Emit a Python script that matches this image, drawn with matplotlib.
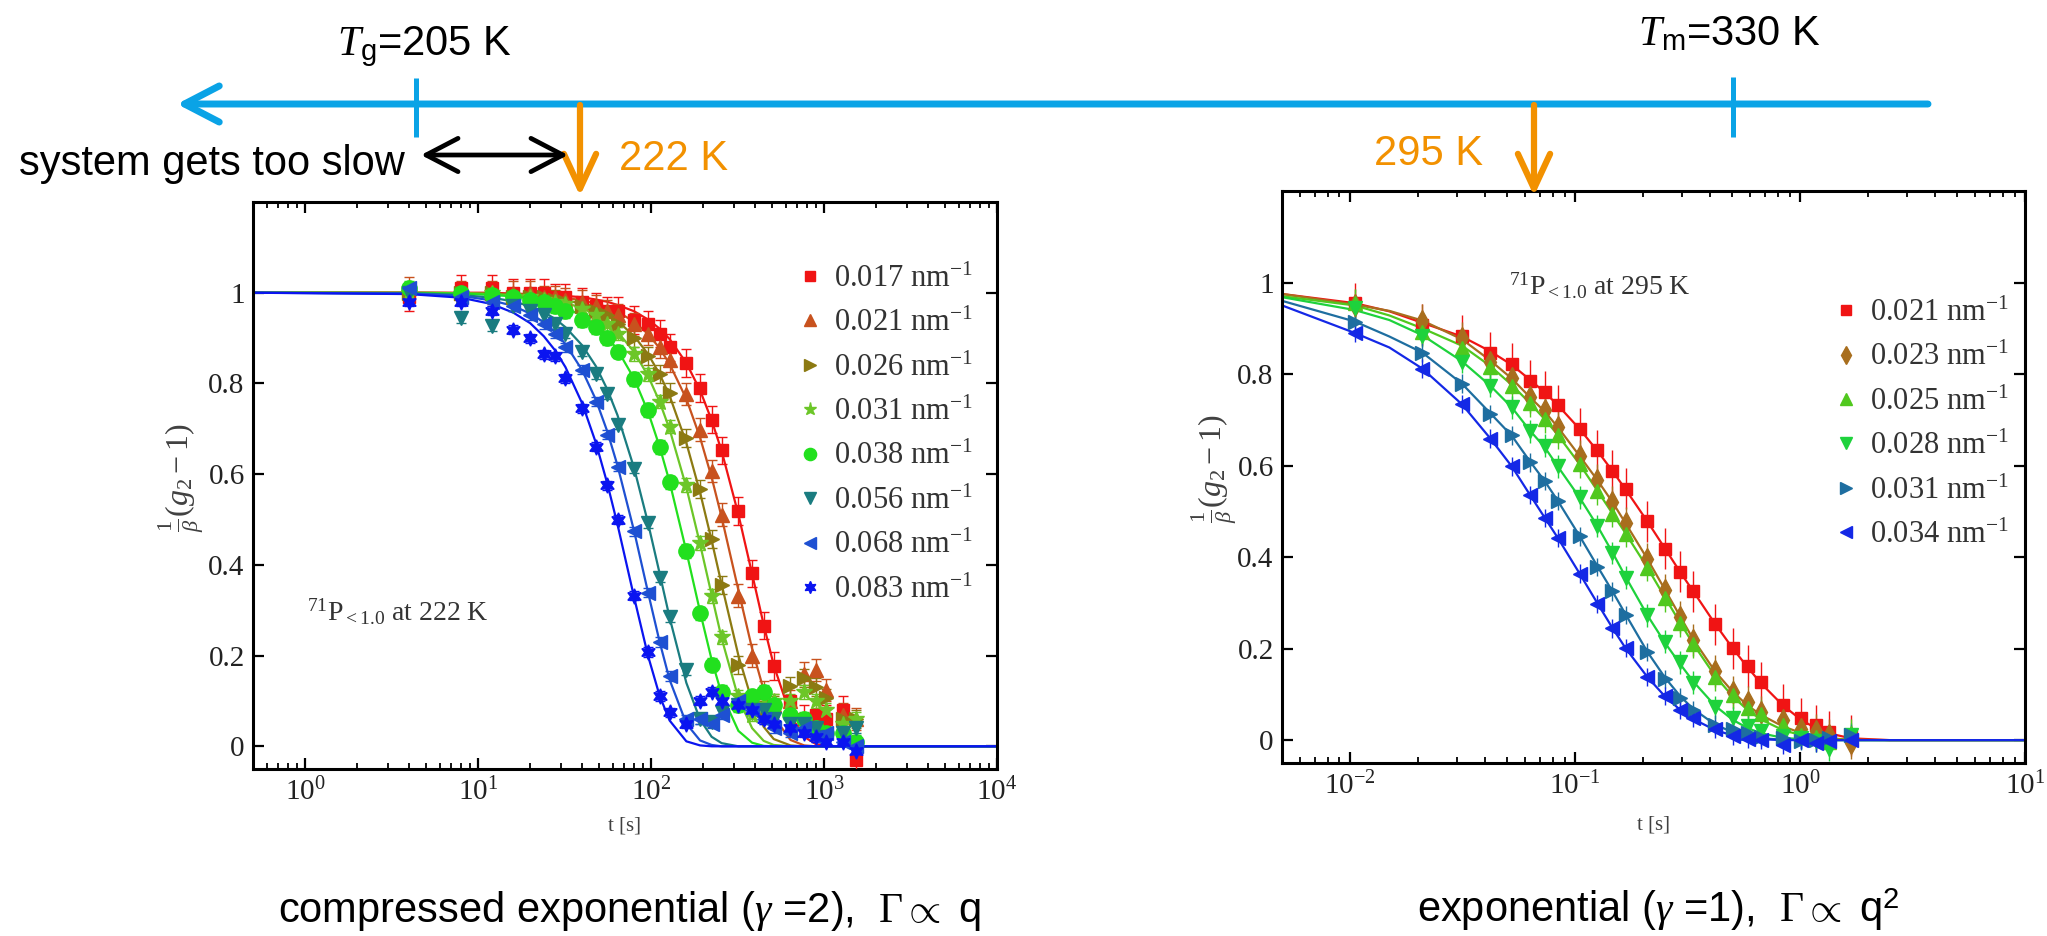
import matplotlib.pyplot as plt
from matplotlib.lines import Line2D
from matplotlib.ticker import NullLocator

plt.rcParams.update({
    'font.family': ['Liberation Serif', 'DejaVu Serif'],
    'mathtext.fontset': 'custom',
    'mathtext.rm': 'Liberation Serif',
    'mathtext.it': 'Liberation Serif:italic',
    'mathtext.bf': 'Liberation Serif:bold',
    'mathtext.sf': 'Liberation Sans',
})

# ---------------- data: left panel (222 K) ----------------
Q_LEFT = ['0.017', '0.021', '0.026', '0.031', '0.038', '0.056', '0.068', '0.083']
T_LEFT = [4, 8, 12, 16, 20, 24, 28, 32, 40, 48, 56, 64, 80, 96, 112, 128, 160, 192,
          224, 256, 320, 384, 448, 512, 640, 768, 896, 1024, 1280, 1536]
G_LEFT = [
    [.99, 1.01, 1.01, 1.0, 1.0, 1.0, .99, .99, .98, .97, .96, .96, .94, .93, .91, .88, .845, .79,
     .72, .653, .519, .381, .266, .177, .10, .06, .07, .06, .08, -.03],
    [1.01, 1.0, 1.0, 1.0, 1.0, .99, .99, .985, .98, .97, .96, .95, .93, .91, .88, .851, .777, .698,
     .607, .511, .332, .20, .12, .09, .10, .16, .168, .124, .07, .06],
    [1.0, 1.0, 1.0, .99, .99, .99, .985, .98, .97, .96, .95, .93, .90, .86, .82, .78, .68, .567,
     .457, .355, .18, .10, .08, .09, .133, .15, .13, .106, .06, .06],
    [1.0, .99, 1.0, .99, .99, .985, .98, .975, .965, .95, .93, .91, .865, .82, .76, .705, .576, .448,
     .332, .24, .11, .07, .09, .10, .10, .12, .10, .08, .05, .06],
    [1.01, 1.0, .995, .99, .985, .98, .97, .96, .94, .925, .90, .87, .81, .742, .66, .582, .43, .293,
     .18, .12, .09, .11, .12, .09, .07, .06, .04, .03, .03, .01],
    [1.0, .944, .926, .97, .96, .95, .93, .91, .87, .82, .776, .709, .612, .492, .372, .284, .168, .06,
     .053, .075, .09, .08, .08, .06, .05, .05, .04, .02, .03, .04],
    [1.01, .99, .98, .97, .95, .93, .91, .88, .83, .76, .687, .616, .474, .339, .23, .155, .06, .06,
     .05, .07, .10, .08, .06, .04, .03, .04, .02, .03, .01, 0.0],
    [.98, .98, .96, .918, .90, .864, .86, .811, .745, .66, .576, .50, .332, .208, .111, .075, .05, .10,
     .12, .10, .09, .08, .06, .05, .04, .03, .02, .01, .01, -.01],
]
ERR_LEFT = [0.03, 0.025, 0.02, 0.015, 0.015, 0.01, 0.01, 0.01]
FIT_T_LEFT = [0.5, 4, 8, 12, 16, 20, 24, 28, 32, 40, 48, 56, 64, 80, 96, 112, 128, 160, 192,
              224, 256, 320, 384, 448, 512, 640, 768, 896, 1024, 1280, 1536, 10000]
FIT_LEFT = [
    [1.0, 1.0, 1.0, 1.0, .998, .997, .996, .995, .993, .990, .985, .980, .973, .959, .941, .921,
     .898, .845, .785, .719, .651, .511, .380, .268, .179, .068, .021, .005, .001, 0, 0, 0],
    [1.0, 1.0, .999, .998, .997, .996, .994, .992, .989, .983, .976, .968, .958, .936, .909, .878,
     .843, .766, .681, .593, .505, .344, .215, .124, .065, .014, .002, 0, 0, 0, 0, 0],
    [1.0, 1.0, .999, .998, .996, .994, .991, .988, .984, .975, .964, .952, .938, .904, .865, .821,
     .773, .669, .560, .454, .357, .200, .099, .043, .016, .002, 0, 0, 0, 0, 0, 0],
    [1.0, 1.0, .999, .997, .994, .991, .987, .983, .978, .966, .951, .934, .914, .869, .817, .760,
     .699, .571, .446, .334, .238, .106, .040, .012, .003, 0, 0, 0, 0, 0, 0, 0],
    [1.0, .999, .998, .995, .992, .987, .981, .974, .967, .949, .927, .902, .874, .810, .738, .661,
     .583, .430, .297, .191, .115, .034, .008, .001, 0, 0, 0, 0, 0, 0, 0, 0],
    [1.0, .999, .995, .989, .981, .970, .957, .942, .924, .884, .838, .786, .730, .612, .493, .382,
     .284, .140, .059, .021, .007, 0, 0, 0, 0, 0, 0, 0, 0, 0, 0, 0],
    [1.0, .998, .993, .983, .971, .954, .935, .912, .887, .829, .764, .693, .619, .473, .340, .231,
     .147, .050, .013, .003, 0, 0, 0, 0, 0, 0, 0, 0, 0, 0, 0, 0],
    [1.0, .997, .989, .975, .956, .933, .904, .872, .836, .756, .669, .578, .489, .327, .200, .112,
     .057, .011, .002, 0, 0, 0, 0, 0, 0, 0, 0, 0, 0, 0, 0, 0],
]

# ---------------- data: right panel (295 K) ----------------
Q_RIGHT = ['0.021', '0.023', '0.025', '0.028', '0.031', '0.034']
T_RIGHT = [0.0105, 0.021, 0.0315, 0.042, 0.0525, 0.063, 0.0735, 0.084, 0.105, 0.126, 0.147,
           0.168, 0.21, 0.252, 0.294, 0.336, 0.42, 0.504, 0.588, 0.672, 0.84, 1.008, 1.176,
           1.344, 1.68]
G_RIGHT = [
    [.955, .908, .883, .847, .822, .785, .761, .732, .680, .633, .588, .549, .478, .418, .368,
     .325, .253, .201, .162, .126, .077, .048, .032, .018, .01],
    [.95, .917, .878, .827, .792, .749, .722, .684, .621, .569, .520, .475, .395, .328, .269,
     .219, .152, .106, .084, .061, .043, .025, .021, .012, -.006],
    [.955, .892, .857, .815, .774, .736, .702, .666, .603, .544, .495, .451, .377, .310, .255,
     .210, .138, .099, .070, .057, .034, .012, .007, -.004, .016],
    [.945, .883, .827, .774, .727, .675, .643, .598, .531, .468, .409, .355, .273, .215, .170,
     .125, .072, .048, .030, .021, .009, .005, -.002, -.02, .012],
    [.914, .847, .779, .713, .666, .607, .567, .522, .445, .379, .325, .273, .192, .134, .093,
     .066, .034, .025, .016, .007, .005, -.002, 0.0, .005, .012],
    [.89, .812, .734, .659, .598, .535, .486, .442, .364, .298, .244, .201, .138, .096, .066,
     .048, .025, .009, .003, 0.0, -.011, 0.0, -.006, -.002, 0.0],
]
ERR_RIGHT = [0.045, 0.035, 0.03, 0.025, 0.02, 0.02]
FIT_T_RIGHT = [0.005, 0.0105, 0.015, 0.021, 0.0315, 0.042, 0.0525, 0.063, 0.0735, 0.084, 0.105,
               0.126, 0.147, 0.168, 0.21, 0.252, 0.294, 0.336, 0.42, 0.504, 0.588, 0.672, 0.84,
               1.008, 1.176, 1.344, 1.68, 2.5, 10]
FIT_RIGHT = [
    [.975, .955, .937, .912, .882, .850, .820, .788, .760, .732, .680, .632, .588, .548, .478,
     .418, .367, .325, .254, .200, .158, .124, .076, .045, .026, .015, .004, 0, 0],
    [.975, .952, .938, .917, .876, .830, .790, .750, .718, .684, .621, .568, .520, .474, .396,
     .328, .270, .220, .150, .105, .075, .055, .030, .016, .008, .004, .001, 0, 0],
    [.970, .950, .928, .900, .862, .818, .776, .737, .701, .667, .603, .545, .495, .452, .377,
     .311, .256, .210, .140, .095, .065, .045, .022, .011, .005, .002, 0, 0, 0],
    [.968, .940, .918, .885, .828, .775, .727, .677, .640, .598, .530, .468, .410, .357, .273,
     .212, .166, .128, .075, .044, .026, .015, .005, .002, 0, 0, 0, 0, 0],
    [.960, .915, .882, .847, .779, .715, .665, .610, .566, .523, .446, .380, .325, .275, .193,
     .136, .096, .068, .034, .017, .008, .004, .001, 0, 0, 0, 0, 0, 0],
    [.950, .890, .858, .812, .734, .660, .598, .537, .486, .442, .364, .299, .245, .201, .138,
     .095, .066, .046, .022, .010, .005, .002, 0, 0, 0, 0, 0, 0, 0],
]

Y_TICKS = [0, 0.2, 0.4, 0.6, 0.8, 1.0]
Y_TICK_LABELS = ['0', '0.2', '0.4', '0.6', '0.8', '1']

# ---------------- styles ----------------
COL_LEFT = ['#f01414', '#c8521e', '#8c7a12', '#6cc628', '#22e01e', '#1a7c80', '#1e50d2', '#0a14f0']
MK_LEFT = ['s', '^', '>', '*', 'o', 'v', '<', (6, 1, 0)]
MS_LEFT = [9, 10, 10, 12, 11, 10, 10, 11]
COL_RIGHT = ['#f01414', '#a86e1e', '#50c81e', '#1ed23c', '#1e6ea0', '#1428e6']
MK_RIGHT = ['s', 'd', '^', 'v', '>', '<']
MS_RIGHT = [9, 11, 10, 10, 10, 10]

BLUE = '#0aa3e6'
ORANGE = '#f29100'
SANS = ['Liberation Sans', 'DejaVu Sans']

W, H = 2047, 936
fig = plt.figure(figsize=(W / 100, H / 100), dpi=100)
ax1 = fig.add_axes([253 / W, 1 - 769 / H, 744 / W, 567 / H])
ax2 = fig.add_axes([1282 / W, 1 - 763 / H, 743 / W, 572 / H])


def style_axes(ax, xlim):
    ax.set_xscale('log')
    ax.set_xlim(*xlim)
    ax.set_ylim(-0.05, 1.2)
    ax.set_yticks(Y_TICKS)
    ax.set_yticklabels(Y_TICK_LABELS)
    ax.yaxis.set_minor_locator(NullLocator())
    ax.tick_params(which='both', direction='in', top=True, right=True,
                   labelsize=21, labelcolor='#222222')
    ax.tick_params(which='major', length=8, width=1.6, pad=6)
    ax.tick_params(which='minor', length=4.5, width=1.3)
    for sp in ax.spines.values():
        sp.set_linewidth(2.2)
    ax.set_ylabel(r'$\frac{1}{\beta}(g_2 - 1)$', fontsize=23, color='#404040')
    ax.set_xlabel('t [s]', fontsize=15, color='#404040')


def legend_box(ax, handles, labels, anchor):
    ax.legend(handles, labels, loc='upper left', bbox_to_anchor=anchor, frameon=False,
              fontsize=22, handlelength=1.0, handletextpad=0.3, labelspacing=0.5,
              borderaxespad=0, borderpad=0, labelcolor='#333333')


# left panel
for i in range(len(Q_LEFT)):
    ax1.plot(FIT_T_LEFT, FIT_LEFT[i], color=COL_LEFT[i], lw=1.6, zorder=2)
for i in range(len(Q_LEFT)):
    ax1.errorbar(T_LEFT, G_LEFT[i], yerr=ERR_LEFT[i], fmt='none', ecolor=COL_LEFT[i],
                 elinewidth=1.0, capsize=3.5, capthick=1.0, zorder=3)
    ax1.plot(T_LEFT, G_LEFT[i], ls='none', marker=MK_LEFT[i], ms=MS_LEFT[i],
             color=COL_LEFT[i], mec=COL_LEFT[i], zorder=4)
style_axes(ax1, (0.5, 1e4))
ax1.xaxis.set_label_coords(0.5, -0.083)
ax1.yaxis.set_label_coords(-0.063, 0.513)
ax1.text(0.073, 0.277, r'$^{71}$P$_{<1.0}$ at 222 K', transform=ax1.transAxes,
         fontsize=20, color='#333333', va='center')
h1 = [Line2D([], [], ls='none', marker=MK_LEFT[i], ms=MS_LEFT[i] * 0.8, color=COL_LEFT[i])
      for i in range(len(Q_LEFT))]
legend_box(ax1, h1, [q + r' nm$^{-1}$' for q in Q_LEFT], (0.728, 0.89))

# right panel
for i in range(len(Q_RIGHT)):
    ax2.plot(FIT_T_RIGHT, FIT_RIGHT[i], color=COL_RIGHT[i], lw=1.6, zorder=2)
for i in range(len(Q_RIGHT)):
    ax2.errorbar(T_RIGHT, G_RIGHT[i], yerr=ERR_RIGHT[i], fmt='none', ecolor=COL_RIGHT[i],
                 elinewidth=1.0, capsize=0, zorder=3)
    ax2.plot(T_RIGHT, G_RIGHT[i], ls='none', marker=MK_RIGHT[i], ms=MS_RIGHT[i],
             color=COL_RIGHT[i], mec=COL_RIGHT[i], zorder=4)
style_axes(ax2, (0.005, 10))
ax2.xaxis.set_label_coords(0.5, -0.092)
ax2.yaxis.set_label_coords(-0.058, 0.514)
ax2.text(0.305, 0.834, r'$^{71}$P$_{<1.0}$ at 295 K', transform=ax2.transAxes,
         fontsize=20, color='#333333', va='center')
h2 = [Line2D([], [], ls='none', marker=MK_RIGHT[i], ms=MS_RIGHT[i] * 0.8, color=COL_RIGHT[i])
      for i in range(len(Q_RIGHT))]
legend_box(ax2, h2, [q + r' nm$^{-1}$' for q in Q_RIGHT], (0.738, 0.812))

# temperature scale sketch on top (figure pixel layout)
ov = fig.add_axes([0, 0, 1, 1])
ov.set_xlim(0, W)
ov.set_ylim(H, 0)
ov.axis('off')

ov.annotate('', xy=(177, 104), xytext=(1928, 104),
            arrowprops=dict(arrowstyle='->, head_length=1.25, head_width=0.65', lw=5,
                            color=BLUE, mutation_scale=20, shrinkA=0, shrinkB=0,
                            capstyle='round', joinstyle='round'))
ov.plot([416, 416], [78, 137], color=BLUE, lw=3.6, solid_capstyle='butt')
ov.plot([1733, 1733], [77, 137], color=BLUE, lw=3.6, solid_capstyle='butt')

for x0 in (580, 1534):
    ov.annotate('', xy=(x0, 196), xytext=(x0, 105),
                arrowprops=dict(arrowstyle='->, head_length=1.25, head_width=0.58', lw=4.5,
                                color=ORANGE, mutation_scale=20, shrinkA=0, shrinkB=0,
                                capstyle='round', joinstyle='round'))
ov.annotate('', xy=(568, 155), xytext=(421, 155),
            arrowprops=dict(arrowstyle='<->, head_length=1.15, head_width=0.6', lw=3.4,
                            color='black', mutation_scale=20, shrinkA=0, shrinkB=0,
                            capstyle='round', joinstyle='round'))

ov.text(337, 55, r'$T_\mathsf{g}$=205 K', fontsize=30, family=SANS, va='baseline')
ov.text(1638, 45, r'$T_\mathsf{m}$=330 K', fontsize=30, family=SANS, va='baseline')
ov.text(405, 175, 'system gets too slow', fontsize=30, family=SANS, ha='right', va='baseline')
ov.text(619, 170, '222 K', fontsize=30, family=SANS, color=ORANGE, va='baseline')
ov.text(1374, 165, '295 K', fontsize=30, family=SANS, color=ORANGE, va='baseline')

ov.text(630, 922, r'compressed exponential ($\gamma$ =2),  $\Gamma \propto$ q',
        fontsize=30, family=SANS, ha='center', va='baseline')
ov.text(1658, 922, r'exponential ($\gamma$ =1),  $\Gamma \propto$ q$^\mathsf{2}$',
        fontsize=30, family=SANS, ha='center', va='baseline')

fig.savefig('out.png', dpi=100)
